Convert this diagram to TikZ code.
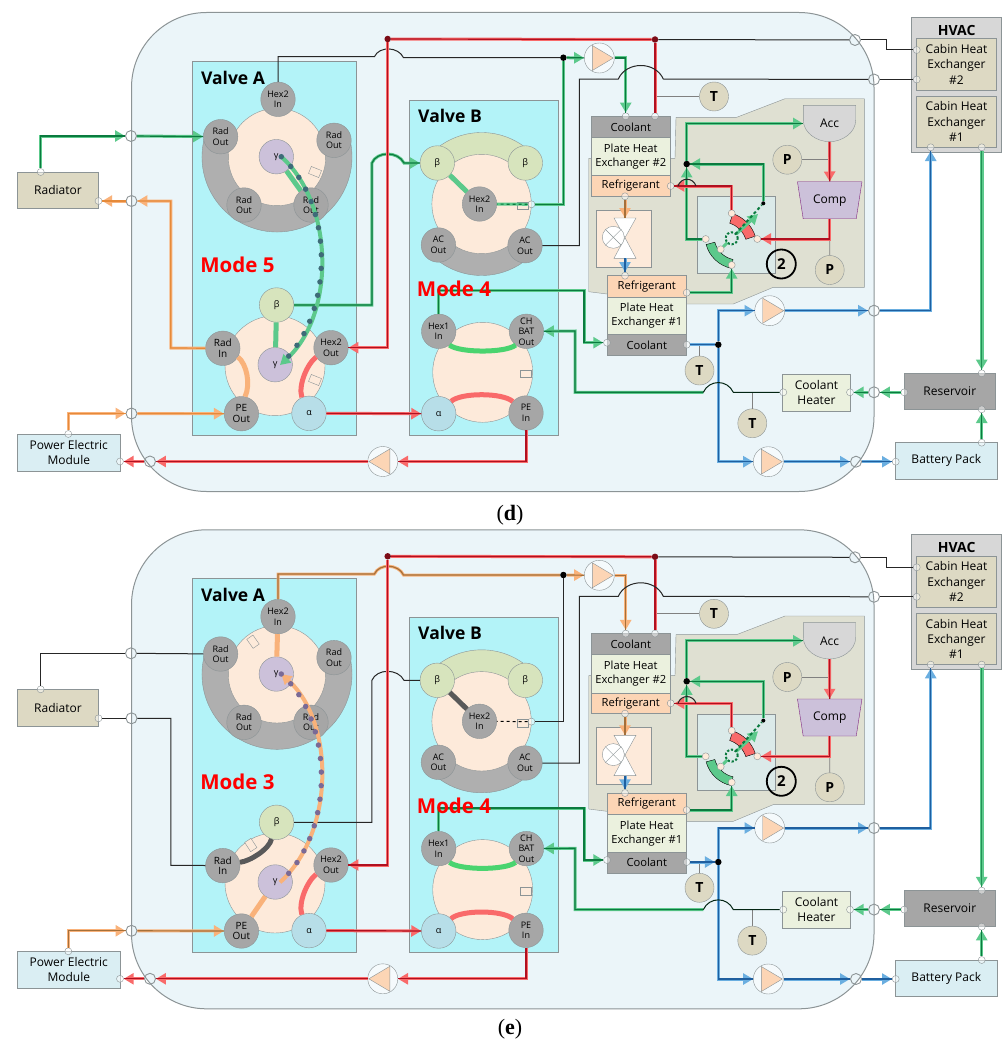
\documentclass[tikz,border=0pt]{standalone}
\usepackage{fontspec}
\setmainfont{Open Sans}
\newfontfamily\capfont{Liberation Serif}
\usetikzlibrary{arrows.meta, positioning, calc, shapes.geometric}

\definecolor{gl}{HTML}{5CC98B}
\definecolor{gd}{HTML}{0B7A3F}
\definecolor{rl}{HTML}{F96A6A}
\definecolor{rd}{HTML}{B01020}
\definecolor{ol}{HTML}{F9B27A}
\definecolor{od}{HTML}{E58A3A}
\definecolor{ob}{HTML}{A5703A}
\definecolor{bl}{HTML}{6AAEE0}
\definecolor{bd}{HTML}{1F5F9F}
\definecolor{wallc}{HTML}{EBF5F9}
\definecolor{cyanc}{HTML}{B3F3F8}
\definecolor{peach}{HTML}{FDEADA}
\definecolor{orgc}{HTML}{FCD5B5}
\definecolor{khaki}{HTML}{DDD9C3}
\definecolor{pale}{HTML}{EBF1DE}
\definecolor{iceb}{HTML}{DAEEF3}
\definecolor{midg}{HTML}{A6A6A6}
\definecolor{lavd}{HTML}{CCC1DA}
\definecolor{sage}{HTML}{D7E4BD}
\definecolor{skyc}{HTML}{B7DEE8}
\definecolor{olive}{HTML}{DFE0D2}
\definecolor{edgec}{HTML}{8C9496}
\definecolor{dotg}{HTML}{3E6B78}
\definecolor{dotp}{HTML}{7A6A96}

\newcommand\vfont{\fontsize{9}{10.5}\selectfont}
\newcommand\vbig{\fontsize{10}{12.5}\selectfont}
\newcommand\bfont{\fontsize{12}{15.3}\selectfont}
\newcommand\sfont{\fontsize{11.2}{14}\selectfont}

\tikzset{
	pipe/.style 2 args={draw=#1, line width=3pt, postaction={draw=#2, line width=1.2pt, tips=never}},
	gpipe/.style={pipe={gl}{gd}},
	rpipe/.style={pipe={rl}{rd}},
	opipe/.style={pipe={ol}{od}},
	ypipe/.style={pipe={ol}{ob}},
	bpipe/.style={pipe={bl}{bd}},
	wire/.style={draw=black!85, line width=1pt},
	graywire/.style={draw=gray, line width=.9pt},
	arr/.style={-{Triangle[length=10pt,width=11pt]}},
	box/.style={draw=edgec, fill=#1, line width=.9pt, inner sep=0pt, align=center, font=\bfont},
	vc/.style={circle, draw=edgec, fill=#1, minimum size=34.5pt, inner sep=0pt, align=center, font=\vfont},
	gauge/.style={circle, draw=edgec, fill=khaki, minimum size=29pt, inner sep=0pt, font=\bfseries\fontsize{14}{16}\selectfont},
	port/.style={circle, draw=edgec, fill=white, fill opacity=.45, text opacity=1, minimum size=7pt, inner sep=0pt},
	vport/.style={circle, draw=edgec, fill=peach, minimum size=7pt, inner sep=0pt},
	cross/.style={circle, draw=edgec, line width=.9pt, minimum size=11pt, inner sep=0pt},
	jdot/.style={circle, fill=#1, minimum size=6.5pt, inner sep=0pt},
	pumpc/.style={circle, draw=edgec, fill=white, fill opacity=.5, minimum size=30pt, inner sep=0pt},
	pumptri/.style={draw=edgec, fill=orgc},
	notch/.style={draw=edgec, fill=peach, minimum width=11pt, minimum height=7.5pt, inner sep=0pt},
	seg/.style={line width=5pt},
	dotline/.style={line width=5.5pt, line cap=round, dash pattern=on 0pt off 13.6pt},
	title/.style={font=\bfseries\fontsize{17.5}{20}\selectfont},
	modetxt/.style={text=red, font=\bfseries\fontsize{20.5}{22}\selectfont}
}

\newcommand\ringseg[6][]{
	\draw[#1] (#2) ++(#5:#4pt) arc[start angle=#5,end angle=#6,radius=#4pt] -- ([shift={(#6:#3pt)}]#2) arc[start angle=#6,end angle=#5,radius=#3pt] -- cycle;
}
\newcommand\pump[4]{
	\node[pumpc] (#1) at (#2,#3) {};
	\draw[pumptri] (#1.center) ++(#4*-7,-12.5) -- ++(0,25) -- ++(#4*21,-12.5) -- cycle;
}

\newcommand\hppanel{
	\draw[draw=edgec, fill=wallc, line width=1pt, rounded corners=75pt] (131.5,12.5) rectangle (874,491.5);
	% outside the wall
	\node[box=khaki, minimum width=81pt, minimum height=36.7pt] (radiator) at (58,190.3) {Radiator};
	\node[box=iceb, minimum width=102.5pt, minimum height=37pt] (pem) at (68.8,452.5) {Power Electric\\Module};
	\node[box=midg!45, minimum width=90.4pt, minimum height=134.7pt] (hvac) at (956.5,84.7) {};
	\node[font=\bfseries\fontsize{14}{16}\selectfont] (hvact) at (956.7,30.3) {HVAC};
	\node[box=khaki, minimum width=80.4pt, minimum height=51.3pt] (cabB) at (956.5,64.3) {Cabin Heat\\Exchanger\\\#2};
	\node[box=khaki, minimum width=80.4pt, minimum height=51pt] (cabA) at (956.5,121.5) {Cabin Heat\\Exchanger\\\#1};
	\node[box=midg, minimum width=91.7pt, minimum height=36pt] (reservoir) at (949.8,391.3) {Reservoir};
	\node[box=iceb, minimum width=101.3pt, minimum height=36.3pt] (battery) at (946.3,460.8) {Battery Pack};
	\node[box=pale, minimum width=67.6pt, minimum height=37pt] (heater) at (816.5,392.5) {Coolant\\Heater};
	% valve boxes
	\node[box=cyanc, minimum width=164.6pt, minimum height=374pt] (valveA) at (274.3,248) {};
	\node[box=cyanc, minimum width=148.3pt, minimum height=335pt] (valveB) at (483.8,267.5) {};
	\node[title] (valveAt) at (233,77.7) {Valve A};
	\node[title] (valveBt) at (450,116) {Valve B};
	% valve A
	\coordinate (cAu) at (277,157);
	\ringseg[draw=edgec, fill=midg!90]{cAu}{48}{75}{160}{380}
	\node[circle, draw=edgec, fill=peach, minimum size=97.4pt] (diskA) at (cAu) {};
	\node[circle, draw=edgec, fill=peach, minimum size=100pt] (diskB) at (275,365.7) {};
	\node[vc=midg] (hexAin) at (278,99.3) {Hex2\\In};
	\node[vc=midg] (radAl) at (220.6,136.7) {Rad\\Out};
	\node[vc=midg] (radAr) at (334,140.3) {Rad\\Out};
	\node[vc=midg] (radAp) at (244,205) {Rad\\Out};
	\node[vc=midg] (radAq) at (311,205) {Rad\\Out};
	\node[vc=lavd] (gamU) at (276.3,156.7) {γ};
	\node[vc=sage] (betL) at (276.6,305) {β};
	\node[vc=midg] (radIn) at (222.8,348.3) {\vbig Rad\\\vbig In};
	\node[vc=midg] (hexAout) at (331,347.7) {Hex2\\Out};
	\node[vc=midg] (peOut) at (241.4,413.7) {\vbig PE\\\vbig Out};
	\node[vc=skyc] (alphaA) at (309,413.3) {α};
	\node[vc=lavd] (gamL) at (275.2,364.7) {γ};
	% valve B
	\coordinate (cBu) at (481.6,204);
	\ringseg[draw=edgec, fill=sage]{cBu}{48}{71.5}{43}{137}
	\ringseg[draw=edgec, fill=midg!90]{cBu}{48}{71.5}{224}{316}
	\node[circle, draw=edgec, fill=peach, minimum size=99.4pt] (diskC) at (cBu) {};
	\node[circle, draw=edgec, fill=peach, minimum size=100pt] (diskD) at (482.7,372.3) {};
	\node[vc=sage] (betU) at (437.3,163) {β};
	\node[vc=sage] (betV) at (525.3,163) {β};
	\node[vc=midg] (hexBin) at (479.5,204) {Hex2\\In};
	\node[vc=midg] (acL) at (438.4,245) {AC\\Out};
	\node[vc=midg] (acR) at (525,245.7) {AC\\Out};
	\node[vc=midg] (hexCin) at (438.7,331.3) {Hex1\\In};
	\node[vc=midg] (chbat) at (526.4,331.3) {CH\\BAT\\Out};
	\node[vc=skyc] (alphaB) at (438.7,413.7) {α};
	\node[vc=midg] (peIn) at (526,413) {PE\\In};
	\node[notch] (notchB) at (523,205.7) {};
	\node[notch] (notchD) at (525.6,373.7) {};
	\draw[seg, draw=rl] (hexAout.212) .. controls +(-9,7) and +(-4,-12) .. (alphaA.114);
	\draw[seg, draw=gl!80!green] (hexCin.-52) .. controls +(10,8) and +(-10,8) .. (chbat.232);
	\draw[seg, draw=rl] (alphaB.45) .. controls +(10,-9) and +(-10,-9) .. (peIn.139);
	% refrigerant side
	\draw[draw=edgec, fill=olive] (588.7,158.3) -- (675,158.3) -- (676,117.3) -- (736.7,117.3) -- (785,98.7) -- (864.3,98.7) -- (864.3,287.3) -- (773.3,287.3) -- (733.3,304) -- (686.7,304) -- (607,294) -- (588.7,291.7) -- cycle;
	\node[box=midg, font=\sfont, minimum width=79.7pt, minimum height=21pt] (coolB) at (630.8,126.8) {Coolant};
	\node[box=pale, font=\sfont, minimum width=79.7pt, minimum height=38.4pt] (plateB) at (630.8,156.5) {Plate Heat\\Exchanger \#2};
	\node[box=orgc, font=\sfont, minimum width=79.7pt, minimum height=20.6pt] (refB) at (630.8,186) {Refrigerant};
	\node[box=orgc, font=\sfont, minimum width=79.7pt, minimum height=21.3pt] (refA) at (646.8,286.3) {Refrigerant};
	\node[box=pale, font=\sfont, minimum width=79.7pt, minimum height=37.7pt] (plateA) at (646.8,315.8) {Plate Heat\\Exchanger \#1};
	\node[box=midg, font=\sfont, minimum width=79.7pt, minimum height=21pt] (coolA) at (646.8,345.2) {Coolant};
	\node[box=peach, minimum width=55pt, minimum height=56.7pt] (expv) at (623.8,238.7) {};
	\draw[draw=edgec, fill=white] (614,218) -- (636,218) -- (625,237.7) -- (636,258.3) -- (614,258.3) -- (625,237.7) -- cycle;
	\node[circle, draw=edgec, fill=white, minimum size=22pt, inner sep=0pt] (xv) at (613.3,237.3) {};
	\draw[draw=edgec] (xv.north west) -- (xv.south east);
	\draw[draw=edgec] (xv.north east) -- (xv.south west);
	\coordinate (vlvT) at (625,218);
	\coordinate (vlvB) at (625,258.3);
	\node[box=iceb!70!olive, minimum width=78.7pt, minimum height=76.6pt] (fourv) at (736.3,235) {};
	\draw[draw=edgec, fill=midg!45] (803.3,105.3) -- (855.7,105.3) -- (855.7,120) .. controls (855.7,133) and (842,141.7) .. (829.5,141.7) .. controls (817,141.7) and (803.3,133) .. (803.3,120) -- cycle;
	\node[minimum width=52.4pt, minimum height=36.4pt, inner sep=0pt, font=\bfont] (acc) at (829.5,123.5) {Acc};
	\node[trapezium, trapezium angle=72.7, shape border rotate=180, trapezium stretches=true, draw=violet!70!gray, fill=lavd, minimum width=64.7pt, minimum height=37pt, inner sep=0pt, font=\bfont] (comp) at (829.7,200.2) {Comp};
	\node[gauge] (pA) at (787.3,159.7) {P};
	\node[gauge] (pB) at (829.7,270) {P};
	\node[gauge] (tA) at (714,96.5) {T};
	\node[gauge] (tB) at (699.5,370.5) {T};
	\node[gauge] (tC) at (752.3,423.3) {T};
	\node[circle, draw=black, line width=1.8pt, minimum size=29pt, inner sep=0pt, font=\bfseries\fontsize{15}{17}\selectfont] (two) at (781.3,264) {2};
	% four way valve
	\coordinate (cFa) at (722,247);
	\coordinate (cFb) at (738,236);
	\ringseg[fill=rl]{cFa}{25}{35}{18}{72}
	\ringseg[fill=gl]{cFb}{24}{33}{195}{258}
	\node[vport] (vT) at (731.7,213.3) {};
	\node[vport] (vR) at (757.3,239) {};
	\node[vport] (vL) at (705.7,239) {};
	\node[vport] (vI) at (720.7,249.3) {};
	\node[vport] (vB) at (731.7,265) {};
	\node[jdot=black, minimum size=4pt] (dotEnd) at (763.3,203.3) {};
	% ports on the boxes
	\node[port] (pRadT) at (40.7,172) {};
	\node[port] (pRadR) at (98.5,201) {};
	\node[port] (pPemT) at (68.3,434) {};
	\node[port] (pPemR) at (120,461.5) {};
	\node[port] (pHexB) at (531.4,204.3) {};
	\node[port] (pCoolB) at (655,116.3) {};
	\node[port] (pCoolA) at (625.7,116.3) {};
	\node[port] (pRefB) at (670.7,186) {};
	\node[port] (pRefC) at (625,196.3) {};
	\node[port] (pRefD) at (625,275.7) {};
	\node[port] (pRefA) at (686.7,292.7) {};
	\node[port] (pCoolC) at (686.7,344.7) {};
	\node[port] (pCoolD) at (607,342.7) {};
	\node[port] (pCabA) at (916.7,50) {};
	\node[port] (pCabB) at (916.7,79.5) {};
	\node[port] (pCabC) at (930.7,147.3) {};
	\node[port] (pCabD) at (981.7,147.3) {};
	\node[port] (pResT) at (981.7,373.3) {};
	\node[port] (pResB) at (981.7,409.3) {};
	\node[port] (pRes) at (904.3,392.3) {};
	\node[port] (pBatT) at (981.7,442.7) {};
	\node[port] (pBat) at (895.7,461.7) {};
	\node[port] (pHeatR) at (850,392.3) {};
	\node[port] (pHeatL) at (783.3,392.3) {};
	% wall crossings
	\node[cross] (wRadT) at (131,136) {};
	\node[cross] (wRadR) at (131.5,201) {};
	\node[cross] (wPem) at (131.5,413.5) {};
	\node[cross] (wPemB) at (150,461.5) {};
	\node[cross] (wCabA) at (855,40) {};
	\node[cross] (wCabB) at (874,79.5) {};
	\node[cross] (wBlueA) at (874,310.7) {};
	\node[cross] (wBlueB) at (856,461.7) {};
	\node[cross] (wHeat) at (874,392.3) {};
	% pumps
	\pump{pumpA}{599.3}{58}{1}
	\pump{pumpB}{769.7}{310.7}{1}
	\pump{pumpC}{768.3}{461.7}{1}
	\pump{pumpD}{382.8}{461.5}{-1}
	% junctions
	\node[jdot=rd!70!black] (jRa) at (387.7,39) {};
	\node[jdot=rd!70!black] (jRb) at (655,39.5) {};
	\node[jdot=black] (jTop) at (563.4,57.7) {};
	\node[jdot=black] (jRef) at (686.7,164) {};
	\node[jdot=black] (jBlue) at (718.3,344.7) {};
	% gauge lines
	\draw[graywire] (tA) -- (tA -| jRb);
	\draw[graywire] (tB) -- (tB |- coolA);
	\draw[graywire] (tC) -- (tC |- pHeatL);
	\draw[graywire] (pA) -- (pA -| acc);
	\draw[graywire] (pB) -- (comp);
	% pipes
	\draw[radsupply] (pRadT) |- (wRadT);
	\draw[radsupply] (wRadT) -- (radAl);
	\draw[radreturn] (radIn) -- (170.8,348) |- (wRadR);
	\draw[radreturn] (wRadR) -- (pRadR);
	\draw[pesupply] (pPemT) |- (wPem);
	\draw[pesupply] (wPem) -- (peOut);
	\draw[hextop] (hexAin) -- (278,56.7) -- (374.4,56.7) .. controls +(5,-11) and +(-5,-11) .. (403.5,57.7) -- (jTop);
	\draw[coolin] (jTop) -- (pumpA);
	\draw[coolin] (pumpA) -| (pCoolA);
	\draw[hexdown] (jTop) |- (pHexB);
	\draw[hexdash] (pHexB) -- (hexBin);
	\draw[betaline] (betL) -| (371.9,163) .. controls +(5,-12) and +(-6,-12) .. (404,163) -- (betU);
	\draw[rpipe] (jRa) -- (jRb);
	\draw[rpipe,arr] (jRa) |- (hexAout);
	\draw[rpipe] (jRb) -- (pCoolB);
	\draw[wire] (jRb) -- (wCabA);
	\draw[wire] (wCabA) -- (886.7,40) -- (886.7,50) -- (pCabA);
	\draw[wire] (acR) -| (579.3,79) -- (618.3,79) .. controls +(8,-18) and +(-8,-18) .. (663.3,79) -- (wCabB);
	\draw[wire] (wCabB) -- (pCabB);
	\draw[rpipe,arr] (alphaA) -- (alphaB);
	\draw[rpipe,arr] (peIn) |- (pumpD);
	\draw[rpipe,arr] (pumpD) -- (wPemB);
	\draw[rpipe,arr] (wPemB) -- (pPemR);
	\draw[coolout] (pCoolC) -- (jBlue);
	\draw[bpipe,arr] (jBlue) |- (pumpB);
	\draw[bpipe,arr] (pumpB) -- (wBlueA);
	\draw[bpipe,arr] (wBlueA) -| (pCabC);
	\draw[bpipe,arr] (jBlue) |- (pumpC);
	\draw[bpipe,arr] (pumpC) -- (wBlueB);
	\draw[bpipe,arr] (wBlueB) -- (pBat);
	\draw[gpipe,arr] (pRes) -- (wHeat);
	\draw[gpipe,arr] (wHeat) -- (pHeatR);
	\draw[gpipe,arr] (703.3,392.3) -- (575,392.3) -- (575,331) -- (chbat);
	\draw[wire, draw=black!70!gd] (pHeatL) -- (733.3,392.3) .. controls +(-6,-13) and +(6,-13) .. (703.3,392.3);
	\draw[gpipe,arr] (hexCin) |- (584,290.7) |- (pCoolD);
	\draw[pipe={gl}{gd!70!gl}, line width=3.6pt, arr] (pCabD) -- (pResT);
	\draw[gpipe,arr] (pBatT) -- (pResB);
	% refrigerant loop
	\draw[gpipe,arr] (pRefA) -| (vB);
	\draw[gpipe,arr] (vL) -| (jRef);
	\draw[gpipe,arr] (jRef) |- (acc);
	\draw[gpipe,arr] (dotEnd) |- (jRef);
	\draw[rpipe,arr] (vT) |- (pRefB);
	\draw[wire] (696,186) .. controls +(-3,-9) and +(3,-9) .. (678,186);
	\draw[rpipe,arr] (acc) -- (comp);
	\draw[rpipe,arr] (comp) |- (vR);
	\draw[pipe={ol}{ob},arr] (pRefC) -- (vlvT);
	\draw[bpipe,arr] (vlvB) -- (pRefD);
	\draw[draw=gl, line width=3pt] (vI) -- (731.7,238.3);
	\draw[draw=gl, line width=3pt, arr] (731.7,238.3) -- (758,214);
	\draw[draw=gd, line width=2pt, dash pattern=on 3pt off 2.5pt] (731.7,238.3) -- (dotEnd);
	\node[circle, draw=gd, fill=iceb!70!olive, line width=2pt, dash pattern=on 2.2pt off 1.8pt, minimum size=12pt, inner sep=0pt] (ringF) at (731.7,238.3) {};
	\node[modetxt] (modeB) at (454,289) {Mode 4};
}

\begin{document}
\begin{tikzpicture}[x=1pt,y=-1pt]
	\useasboundingbox (0,0) rectangle (1003,1041);
	\begin{scope}[name prefix=d-,
		radsupply/.style={gpipe,arr}, radreturn/.style={opipe,arr}, pesupply/.style={opipe,arr},
		hextop/.style={wire}, coolin/.style={gpipe,arr}, hexdown/.style={gpipe},
		hexdash/.style={draw=gl, line width=3pt, postaction={draw=gd, line width=1.2pt, dashed}},
		betaline/.style={gpipe,arr}, coolout/.style={bpipe}]
		\hppanel
		\node[modetxt] (modeA) at (237.4,265) {Mode 5};
		\node[notch, rotate=-22] (notchA) at (315,172) {};
		\node[notch, rotate=-22] (notchC) at (315,380) {};
		\draw[seg, draw=ol] (radIn.-30) .. controls +(9,7) and +(5.7,-12) .. (peOut.78);
		\draw[seg, draw=gl] (gamU) -- (radAq);
		\draw[seg, draw=gl] (betL) -- (gamL);
		\draw[seg, draw=gl] (betU) -- (hexBin);
		\draw[draw=gl, line width=4pt, arr] ([xshift=5pt]gamU.center) .. controls (335,205) and (335,315) .. (280,365);
		\draw[dotline, draw=dotg] ([xshift=5pt]gamU.center) .. controls (335,205) and (335,315) .. (280,365);
	\end{scope}
	\begin{scope}[shift={(0,517.3)}, name prefix=e-,
		radsupply/.style={wire}, radreturn/.style={wire}, pesupply/.style={ypipe,arr},
		hextop/.style={ypipe}, coolin/.style={ypipe,arr}, hexdown/.style={wire},
		hexdash/.style={draw=black, line width=1pt, dashed},
		betaline/.style={wire}, coolout/.style={bpipe,arr}]
		\hppanel
		\node[modetxt] (modeA) at (237.4,265) {Mode 3};
		\node[notch, rotate=-55] (notchA) at (253,124.4) {};
		\node[notch, rotate=-57] (notchC) at (250.8,327.7) {};
		\draw[seg, draw=ol] (hexAin) -- (gamU);
		\draw[seg, draw=ol] (gamL) -- (peOut);
		\draw[seg, draw=gray!70!black] (radIn.11) .. controls +(10,-1) and +(-2,10) .. (betL.253);
		\draw[seg, draw=gray!70!black] (betU) -- (hexBin);
		\draw[draw=ol, line width=4pt, {Triangle[length=10pt,width=11pt]}-] ([xshift=5pt]gamU.center) .. controls (335,205) and (335,315) .. (280,365);
		\draw[dotline, draw=dotp] ([xshift=5pt]gamU.center) .. controls (335,205) and (335,315) .. (280,365);
	\end{scope}
	\node[font=\capfont\fontsize{22}{24}\selectfont] (capd) at (510,515) {(\textbf{d})};
	\node[font=\capfont\fontsize{22}{24}\selectfont] (cape) at (510,1029) {(\textbf{e})};
\end{tikzpicture}
\end{document}
